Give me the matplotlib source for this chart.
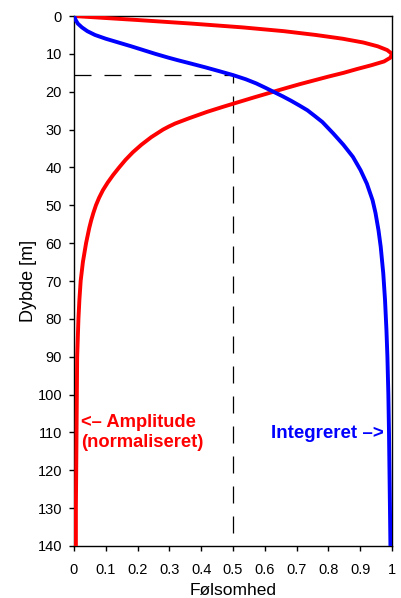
import numpy as np
import matplotlib
matplotlib.use('Agg')
import matplotlib.pyplot as plt

plt.rcParams['font.family'] = ['Liberation Sans', 'DejaVu Sans']

# amplitude (normalised) vs depth
amp_depth = [0, 1, 2, 3, 4, 5, 6, 7, 8, 9, 10, 11, 12, 13, 14, 15, 16, 17, 18, 19, 20, 21.5, 23, 24,
             25.3, 27, 28.4, 29.2, 30, 32, 34, 36, 38, 40, 42, 44, 46, 48, 50, 52, 54, 56, 58, 60,
             65, 70, 75, 80, 90, 100, 110, 120, 130, 140]
amp_val = [0.0, 0.19, 0.37, 0.53, 0.66, 0.76, 0.845, 0.91, 0.955, 0.985, 1.0, 0.995, 0.975, 0.935,
           0.89, 0.848, 0.80, 0.755, 0.71, 0.668, 0.627, 0.566, 0.507, 0.468,
           0.419, 0.362, 0.318, 0.298, 0.28, 0.243, 0.212, 0.185, 0.162, 0.142, 0.123, 0.106,
           0.091, 0.079, 0.069, 0.061, 0.054, 0.048, 0.043, 0.038,
           0.028, 0.021, 0.017, 0.014, 0.010, 0.009, 0.008, 0.007, 0.006, 0.006]

# integrated sensitivity vs depth
int_depth = [0, 0.3, 1, 2, 3, 4, 5, 6, 7, 8, 9, 10, 11, 11.64, 12.5, 13.6, 14.6, 15.6, 16.7, 17.8,
             19, 20, 21.2, 22.4, 23.6, 24.9, 26.4, 28, 29.5, 31, 34, 37.2, 40.7, 44.3, 48.7, 52,
             56.6, 61, 68, 75, 83, 90, 100, 110, 120, 130, 140]
int_val = [0.0, 0.002, 0.005, 0.012, 0.025, 0.042, 0.066, 0.1, 0.14, 0.18, 0.218, 0.256, 0.297,
           0.325, 0.365, 0.415, 0.458, 0.5, 0.54, 0.573, 0.603, 0.627, 0.656, 0.683, 0.708,
           0.734, 0.757, 0.781, 0.798, 0.815, 0.847, 0.877, 0.901, 0.921, 0.939, 0.948,
           0.9575, 0.9645, 0.9725, 0.978, 0.9825, 0.9855, 0.9885, 0.9905, 0.992, 0.9935, 0.995]

half_depth = 15.6
half_val = 0.5

fig = plt.figure(figsize=(4.01, 5.98), dpi=100)
ax = fig.add_axes([0.1845, 0.087, 0.7931, 0.8862])

ax.plot(amp_val, amp_depth, color='#ff0000', lw=2.8, solid_capstyle='butt', zorder=3)
ax.plot(int_val, int_depth, color='#0000ff', lw=2.8, solid_capstyle='butt', zorder=3)

# dashed guide to the 50 % depth
ax.plot([0, half_val, half_val], [half_depth, half_depth, 140], color='black', lw=0.9,
        linestyle=(0, (13.6, 10.4)), zorder=2)

ax.text(0.022, 110, '<\u2013 Amplitude\n(normaliseret)', color='#ff0000', fontsize=13.2,
        fontweight='bold', ha='left', va='center', linespacing=1.18)
ax.text(0.973, 110.3, 'Integreret \u2013>', color='#0000ff', fontsize=13.5,
        fontweight='bold', ha='right', va='center')

ax.set_xlim(0, 1)
ax.set_ylim(140, 0)
ax.set_xticks(np.arange(0, 1.01, 0.1))
ax.set_xticklabels(['0', '0.1', '0.2', '0.3', '0.4', '0.5', '0.6', '0.7', '0.8', '0.9', '1'])
ax.set_yticks(np.arange(0, 141, 10))
ax.tick_params(axis='x', direction='out', length=3.6, width=1, labelsize=10.5, pad=9)
ax.tick_params(axis='y', direction='out', length=3.6, width=1, labelsize=10.5, pad=5)
for s in ax.spines.values():
    s.set_linewidth(1.0)

ax.set_xlabel('Følsomhed', fontsize=12.5, va='baseline')
ax.xaxis.set_label_coords(0.5, -0.092)
ax.set_ylabel('Dybde [m]', fontsize=13, va='center')
ax.yaxis.set_label_coords(-0.1415, 0.5)

fig.savefig('out.png', dpi=100)
